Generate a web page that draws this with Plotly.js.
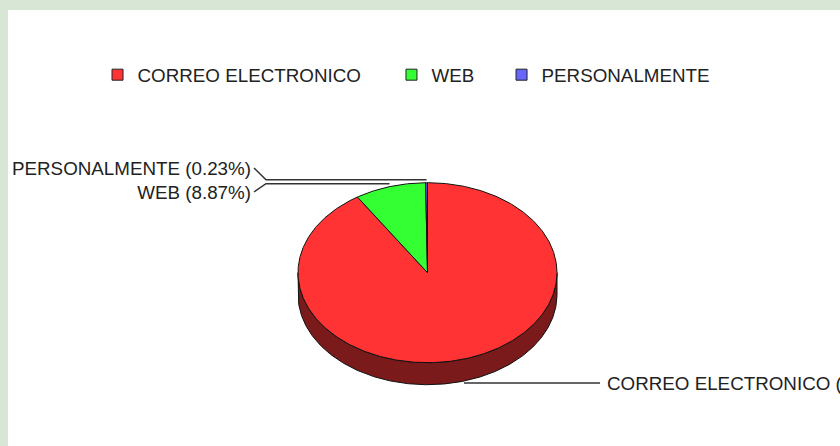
<!DOCTYPE html>
<html><head><meta charset="utf-8">
<script src="https://cdn.plot.ly/plotly-3.0.1.min.js"></script>
<style>html,body{margin:0;padding:0;background:#d8e6d6;} #chart{width:840px;height:446px;}</style>
</head><body><div id="chart"></div>
<script>
// ---- data ----
const categories = ['CORREO ELECTRONICO', 'WEB', 'PERSONALMENTE'];
const percents = [90.90, 8.87, 0.23];
const colors = ['#ff3333', '#33ff33', '#6666ff'];
const sideColors = ['#7a1a1a', '#1a7a1a', '#33337a'];

// ---- geometry (layout) ----
const CX = 427.5, CY = 272.7, RX = 129.5, RY = 90, DEPTH = 22, START = 90;
const FONT = {family: 'Liberation Sans, Arial, sans-serif', size: 18.8, color: '#222'};
const legendX = [0.1076, 0.4609, 0.5932];

const total = percents.reduce((a, b) => a + b, 0);
const rad = d => d * Math.PI / 180;
function pt(th, dy, rx, ry) {
  rx = rx || RX; ry = ry || RY; dy = dy || 0;
  return [CX + rx * Math.cos(rad(th)), CY - ry * Math.sin(rad(th)) + dy];
}
function arc(a0, a1, dy) {
  const n = Math.max(2, Math.ceil(Math.abs(a1 - a0) / 0.5));
  const xs = [], ys = [];
  for (let i = 0; i <= n; i++) {
    const p = pt(a0 + (a1 - a0) * i / n, dy);
    xs.push(p[0]); ys.push(p[1]);
  }
  return [xs, ys];
}

let cur = START;
const slices = percents.map(v => {
  const sweep = v / total * 360;
  const s = {a0: cur, a1: cur - sweep, mid: cur - sweep / 2};
  cur -= sweep;
  return s;
});

const traces = [];
// 3D sides (lower half of ellipse)
slices.forEach((s, i) => {
  for (let k = -2; k <= 1; k++) {
    const lo = -180 + k * 360, hi = k * 360;
    const a = Math.min(s.a0, hi), b = Math.max(s.a1, lo);
    if (a > b) {
      const top = arc(a, b, 0), bot = arc(b, a, DEPTH);
      traces.push({type: 'scatter', mode: 'lines',
        x: top[0].concat(bot[0], [top[0][0]]), y: top[1].concat(bot[1], [top[1][0]]),
        fill: 'toself', fillcolor: sideColors[i], line: {color: '#111', width: 1},
        hoverinfo: 'skip', showlegend: false});
    }
  }
});
// top faces
slices.forEach((s, i) => {
  const a = arc(s.a0, s.a1, 0);
  traces.push({type: 'scatter', mode: 'lines',
    x: [CX].concat(a[0], [CX]), y: [CY].concat(a[1], [CY]),
    fill: 'toself', fillcolor: colors[i], line: {color: '#111', width: 1},
    hoverinfo: 'skip', showlegend: false});
});

// labels with leader lines
const leftTextX = 251, leftElbowX = 266, rightElbowX = 600, rightTextX = 607, textDy = 2;
const leftLabelY = {1: 192, 2: 168};
const lx = [], ly = [], lt = [], rx = [], ry = [], rt = [];
slices.forEach((s, i) => {
  const txt = categories[i] + ' (' + (percents[i] / total * 100).toFixed(2) + '%)';
  if (Math.cos(rad(s.mid)) >= 0) {
    const p = pt(s.mid, DEPTH, RX, RY + 2);
    traces.push({type: 'scatter', mode: 'lines', x: [p[0], rightElbowX], y: [p[1], p[1]],
      line: {color: '#333', width: 1.5}, hoverinfo: 'skip', showlegend: false});
    rx.push(rightTextX); ry.push(p[1] + textDy); rt.push(txt);
  } else {
    const p = pt(s.mid, 0, RX + 2, RY + 3);
    const yl = leftLabelY[i];
    traces.push({type: 'scatter', mode: 'lines', x: [p[0], leftElbowX, leftTextX + 3], y: [p[1], p[1], yl],
      line: {color: '#333', width: 1.5}, hoverinfo: 'skip', showlegend: false});
    lx.push(leftTextX); ly.push(yl + textDy); lt.push(txt);
  }
});
traces.push({type: 'scatter', mode: 'text', x: lx, y: ly, text: lt, textposition: 'middle left',
  textfont: FONT, hoverinfo: 'skip', showlegend: false});
traces.push({type: 'scatter', mode: 'text', x: rx, y: ry, text: rt, textposition: 'middle right',
  textfont: FONT, hoverinfo: 'skip', showlegend: false});

// legend entries (one legend per entry for exact spacing)
const legendKeys = ['legend', 'legend2', 'legend3'];
categories.forEach((c, i) => {
  traces.push({type: 'scatter', mode: 'markers', x: [null], y: [null], name: c, legend: legendKeys[i],
    marker: {symbol: 'square', size: 11, color: colors[i], line: {color: '#222', width: 1}}});
});

const layout = {
  width: 840, height: 446,
  margin: {l: 8, r: 0, t: 10, b: 0},
  paper_bgcolor: '#d8e6d6', plot_bgcolor: '#ffffff',
  xaxis: {range: [8, 840], visible: false, fixedrange: true},
  yaxis: {range: [446, 10], visible: false, fixedrange: true},
  showlegend: true,
  font: FONT
};
legendKeys.forEach((k, i) => {
  layout[k] = {orientation: 'h', x: legendX[i], xanchor: 'left', y: 0.851, yanchor: 'middle',
    font: FONT, bgcolor: 'rgba(0,0,0,0)'};
});
Plotly.newPlot('chart', traces, layout, {displayModeBar: false, staticPlot: true});
</script>
</body></html>
